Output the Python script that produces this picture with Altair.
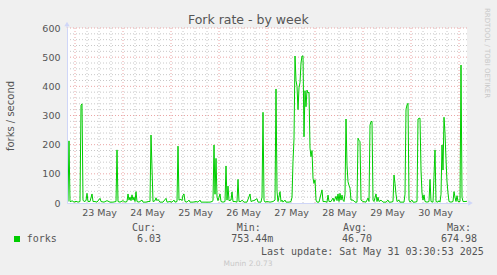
import altair as alt
import pandas as pd

# hours since 2025-05-22 20:00 (30-minute samples) and fork rate values
HOURS = [0, 0.5, 1, 1.5, 2, 2.5, 3.5, 4.5, 5.5, 6.5, 7, 7.5, 8, 8.5, 9.5, 10, 10.5, 11.5, 12.5, 13,
         14, 15, 16.5, 17, 18.5, 20, 21.5, 23, 24.5, 25, 25.5, 26.5, 28, 29, 30, 30.5, 31, 31.5, 32, 32.5,
         33, 33.5, 34, 34.5, 35, 36, 37.5, 38, 39.5, 40.5, 41.5, 42, 42.5, 43, 44, 44.5, 45, 45.5, 46.5, 48,
         49.5, 50, 51.5, 52.5, 53.5, 54, 55, 55.5, 56, 57, 57.5, 58, 58.5, 59, 60, 61, 61.5, 63, 64.5, 65.5,
         66.5, 67, 68.5, 70, 71.5, 72.5, 73, 73.5, 74, 74.5, 75, 75.5, 76.5, 77, 78, 79, 79.5, 80, 80.5, 81,
         82, 82.5, 83, 84, 85, 85.5, 86, 87, 87.5, 88.5, 90, 91.5, 92, 93, 93.5, 95, 95.5, 97, 97.5, 98,
         98.5, 99, 100, 101.5, 103, 104, 104.5, 105, 105.5, 106.5, 107, 107.5, 108, 109, 109.5, 111, 112, 112.5, 113, 113.5,
         114, 114.5, 115, 115.5, 116, 116.5, 117, 117.5, 118, 118.5, 119, 119.5, 120, 120.5, 121, 121.5, 122, 122.5, 123, 123.5,
         124, 124.5, 125, 126, 127.5, 128, 129, 130, 130.5, 131, 132, 133, 133.5, 134.5, 135, 135.5, 136, 136.5, 137, 137.5,
         138, 138.5, 139, 139.5, 140, 140.5, 141, 141.5, 142, 143, 144, 145, 145.5, 146, 146.5, 147, 148, 149.5, 150.5, 151,
         151.5, 152, 152.5, 153, 153.5, 154.5, 155, 155.5, 156, 157, 158, 159.5, 160.5, 161, 162, 163, 163.5, 164, 164.5, 165,
         166, 166.5, 167.5, 168.5, 169, 169.5, 170, 170.5, 171, 171.5, 172.5, 173, 174, 175, 175.5, 176, 176.5, 177, 177.5, 178,
         178.5, 179, 180, 181, 181.5, 182, 183, 184, 184.5, 185.5, 186, 186.5, 187, 187.5, 188, 188.5, 189, 189.5, 190, 190.5,
         191, 192, 193, 193.5, 194, 194.5, 195, 195.5, 196.5, 197, 197.5, 198, 199, 200]
FORKS = [5, 5, 213, 5, 5, 8, 3, 6, 3, 5, 335, 340, 10, 5, 8, 33, 5, 5, 31, 5,
         5, 3, 16, 5, 3, 8, 3, 3, 5, 182, 5, 3, 8, 3, 5, 31, 10, 20, 8, 28,
         10, 20, 5, 39, 5, 3, 10, 3, 3, 5, 5, 233, 120, 5, 8, 18, 8, 12, 3, 3,
         16, 3, 5, 3, 10, 3, 5, 195, 10, 13, 8, 27, 31, 5, 3, 10, 3, 3, 5, 3,
         10, 3, 3, 3, 3, 5, 8, 199, 30, 153, 20, 8, 31, 5, 3, 5, 127, 10, 58, 8,
         10, 38, 5, 5, 3, 81, 5, 5, 10, 3, 3, 31, 5, 8, 8, 15, 3, 3, 20, 311,
         10, 3, 5, 3, 5, 10, 391, 40, 5, 39, 5, 10, 3, 10, 3, 3, 5, 20, 142, 220,
         504, 420, 400, 320, 395, 413, 480, 504, 504, 227, 385, 330, 387, 377, 380, 188, 159, 180, 85, 67,
         80, 10, 3, 3, 45, 5, 5, 3, 27, 5, 5, 17, 5, 23, 8, 31, 5, 33, 10, 27,
         10, 5, 30, 288, 130, 73, 60, 51, 10, 10, 3, 3, 222, 215, 210, 10, 5, 3, 17, 5,
         267, 279, 280, 10, 5, 31, 5, 20, 5, 10, 3, 3, 10, 3, 3, 5, 96, 67, 30, 5,
         10, 3, 3, 3, 30, 321, 336, 342, 10, 3, 10, 3, 3, 5, 288, 290, 291, 113, 34, 10,
         28, 5, 3, 5, 81, 5, 3, 182, 5, 3, 8, 3, 30, 199, 113, 294, 239, 150, 73, 34,
         5, 3, 5, 39, 20, 5, 25, 5, 5, 473, 20, 5, 5, 6]

DAY_LABELS = ["23 May", "24 May", "25 May", "26 May", "27 May", "28 May", "29 May", "30 May"]
DAY_NOON_HOURS = [16, 40, 64, 88, 112, 136, 160, 184]
MIDNIGHT_HOURS = [4, 28, 52, 76, 100, 124, 148, 172, 196]
SIX_HOUR_MARKS = [4 + 6 * k for k in range(33)]
Y_TICKS = [0, 100, 200, 300, 400, 500, 600]
Y_MINOR = list(range(20, 600, 20))
Y_MAJOR = [100, 200, 300, 400, 500, 600]

LEGEND_NAME = "forks"
LEGEND_HEADERS = ["Cur:", "Min:", "Avg:", "Max:"]
LEGEND_VALUES = ["6.03", "753.44m", "46.70", "674.98"]
TITLE = "Fork rate - by week"
Y_TITLE = "forks / second"
LAST_UPDATE = "Last update: Sat May 31 03:30:53 2025"
FOOTER = "Munin 2.0.73"
WATERMARK = "RRDTOOL / TOBI OETIKER"

GREEN = "#00cc00"
AXIS_BLUE = "#cfd6f8"
TEXT = "#555555"
SANS = "DejaVu Sans"
MONO = "DejaVu Sans Mono"

df = pd.DataFrame({"h": HOURS, "v": FORKS})

xscale = alt.Scale(domain=[0, 200], nice=False, zero=False)
yscale = alt.Scale(domain=[0, 600], nice=False)

label_expr = "[" + ",".join("'%s'" % s for s in DAY_LABELS) + "][round((datum.value - 16) / 24)]"

x_axis = alt.Axis(
    values=DAY_NOON_HOURS, labelExpr=label_expr, title="", grid=False, ticks=False,
    domainColor=AXIS_BLUE, domainWidth=1, labelFont=SANS, labelFontSize=9.5,
    labelColor=TEXT, labelPadding=4, labelAngle=0, zindex=1)
y_axis = alt.Axis(
    values=Y_TICKS, title=Y_TITLE, grid=False, ticks=False, domainColor=AXIS_BLUE,
    domainWidth=1, labelFont=SANS, labelFontSize=9.5, labelColor=TEXT, labelPadding=7,
    titleFont=SANS, titleFontSize=10, titleFontWeight="normal", titleColor=TEXT,
    titleX=-57, titleY=87.5, titleAngle=270, titleAlign="center", titleBaseline="middle",
    zindex=1)


def X():
    return alt.X("h:Q", scale=xscale, axis=x_axis)


def Y():
    return alt.Y("v:Q", scale=yscale, axis=y_axis)


def vgrid(values, color):
    return alt.Chart(pd.DataFrame({"h": values})).mark_rule(
        color=color, strokeDash=[1, 2], strokeWidth=1
    ).encode(x=X())


def hgrid(values, color):
    return alt.Chart(pd.DataFrame({"v": values})).mark_rule(
        color=color, strokeDash=[1, 2], strokeWidth=1
    ).encode(y=Y())


def text(s, x, y, size=10, font=MONO, color=TEXT, align="left", angle=0, baseline="middle"):
    kw = dict(font=font, fontSize=size, color=color, align=align, baseline=baseline)
    if angle:
        kw["angle"] = angle
    return alt.Chart(pd.DataFrame({"t": [s]})).mark_text(**kw).encode(
        x=alt.value(x), y=alt.value(y), text="t:N"
    )


minor_v = vgrid([m for m in SIX_HOUR_MARKS if m not in MIDNIGHT_HOURS], "#c8c8c8")
minor_h = hgrid([m for m in Y_MINOR if m not in Y_MAJOR], "#c8c8c8")
major_v = vgrid(MIDNIGHT_HOURS, "#eaa6a6")
major_h = hgrid(Y_MAJOR, "#eaa6a6")

line = alt.Chart(df).mark_line(color=GREEN, strokeWidth=1, clip=True).encode(x=X(), y=Y())

arrow_up = alt.Chart(pd.DataFrame({"a": [0]})).mark_point(
    shape="triangle-up", filled=True, color=AXIS_BLUE, size=28, opacity=1
).encode(x=alt.value(0), y=alt.value(-4))
arrow_right = alt.Chart(pd.DataFrame({"a": [0]})).mark_point(
    shape="triangle-right", filled=True, color=AXIS_BLUE, size=28, opacity=1
).encode(x=alt.value(403.5), y=alt.value(175))
axis_ext = alt.Chart(pd.DataFrame({"a": [0]})).mark_rule(color=AXIS_BLUE).encode(
    x=alt.value(0), y=alt.value(-4), y2=alt.value(0))

swatch = alt.Chart(pd.DataFrame({"a": [0]})).mark_square(
    color=GREEN, size=36, opacity=1
).encode(x=alt.value(-50), y=alt.value(211))

layers = [minor_v, minor_h, major_v, major_h, line, axis_ext, arrow_up, arrow_right, swatch,
          text(TITLE, 181.3, -3.7, size=12.5, font=SANS, align="center", baseline="alphabetic"),
          text(WATERMARK, 420.3, 25, size=7, font=SANS, color="#c8c8c8", align="center", angle=90),
          text(LEGEND_NAME, -40.3, 211),
          text(LAST_UPDATE, 194, 223.5),
          text(FOOTER, 181, 235.7, size=7.5, font=SANS, color="#c8c8c8", align="center")]

header_x = [65, 169.7, 276, 380]
value_right = [94, 206.3, 305, 410]
for hx, hs in zip(header_x, LEGEND_HEADERS):
    layers.append(text(hs, hx, 199.5))
for vx, vs in zip(value_right, LEGEND_VALUES):
    layers.append(text(vs, vx, 211, align="right"))

chart = alt.layer(*layers).properties(
    width=400, height=175, background="#f0f0f0",
    padding={"left": 67, "top": 28, "right": 30, "bottom": 72},
    autosize=alt.AutoSizeParams(type="none"),
).configure_view(fill="white", strokeWidth=0)

chart.save("out.html", embed_options={"renderer": "svg", "actions": False})
